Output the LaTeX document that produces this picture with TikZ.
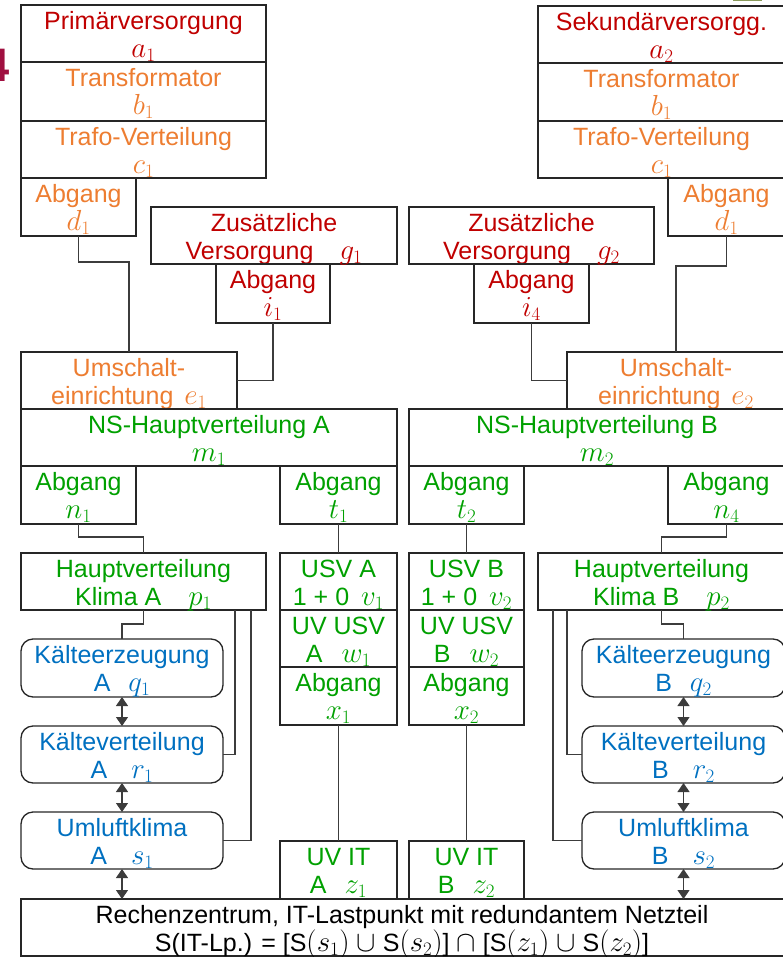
\RequirePackage{fix-cm}
\documentclass[tikz,border=0pt]{standalone}
\usepackage[no-math]{fontspec}
\setmainfont{Liberation Sans}
\DeclareMathSizes{25}{29}{19}{14}
\usetikzlibrary{fit,arrows.meta}
\definecolor{cred}{HTML}{C00000}
\definecolor{corange}{HTML}{ED7D31}
\definecolor{cgreen}{HTML}{00A000}
\definecolor{cblue}{HTML}{0070C0}
\definecolor{cline}{HTML}{262626}
\definecolor{cfour}{HTML}{A01040}
\definecolor{colive}{HTML}{8A9A5B}
\tikzset{
  sq/.style={draw=cline, line width=1.3pt, inner sep=0pt, outer sep=0pt},
  rd/.style={sq, rounded corners=12pt},
  txt/.style={anchor=north, inner sep=0pt, align=center, font=\fontsize{25}{28}\selectfont},
  conn/.style={draw=cline!90, line width=1.2pt},
  dbl/.style={conn, {Triangle[width=12pt,length=9pt]}-{Triangle[width=12pt,length=9pt]}}
}
\newcommand\mkbox[8]{%
  \node[#1, fit={(#3,#4) (#5,#6)}] (#2) {};
  \node[txt, text=#7] (#2t) at (#2.north) {\rule{0pt}{24pt}#8};
}
\begin{document}
\begin{tikzpicture}[x=1pt,y=-1pt]
\useasboundingbox (0,0) rectangle (782,957);
% stray marks at the edges
\node[anchor=base west, inner sep=0pt, text=cfour, font=\fontsize{47}{47}\selectfont\bfseries] (four) at (-17,82) {4};
\fill[colive] (733,-2) rectangle (762,1.5);
% top stacks
\mkbox{sq}{a1}{21}{5}{266}{62}{cred}{Primärversorgung\\$a_1$}
\mkbox{sq}{b1}{21}{62}{266}{121}{corange}{Transformator\\$b_1$}
\mkbox{sq}{c1}{21}{121}{266}{178}{corange}{Trafo-Verteilung\\$c_1$}
\mkbox{sq}{d1}{21}{178}{136}{236}{corange}{Abgang\\$d_1$}
\mkbox{sq}{a2}{538}{6}{785}{63}{cred}{Sekundärversorgg.\\$a_2$}
\mkbox{sq}{b2}{538}{63}{785}{121}{corange}{Transformator\\$b_1$}
\mkbox{sq}{c2}{538}{121}{785}{178}{corange}{Trafo-Verteilung\\$c_1$}
\mkbox{sq}{d2}{668}{178}{785}{236}{corange}{Abgang\\$d_1$}
% additional supply
\mkbox{sq}{g1}{151}{207}{397}{264}{cred}{Zusätzliche\\Versorgung\hspace{26pt}$g_1$}
\mkbox{sq}{i1}{216}{264}{330}{323}{cred}{Abgang\\$i_1$}
\mkbox{sq}{g2}{409}{207}{654}{264}{cred}{Zusätzliche\\Versorgung\hspace{26pt}$g_2$}
\mkbox{sq}{i4}{474}{264}{589}{323}{cred}{Abgang\\$i_4$}
% switching
\mkbox{sq}{e1}{21}{352}{237}{409}{corange}{Umschalt-\\einrichtung\hspace{11pt}$e_1$}
\mkbox{sq}{e2}{567}{352}{785}{409}{corange}{Umschalt-\\einrichtung\hspace{11pt}$e_2$}
% LV main distribution
\mkbox{sq}{m1}{21}{409}{397}{466}{cgreen}{NS-Hauptverteilung A\\$m_1$}
\mkbox{sq}{m2}{409}{409}{785}{466}{cgreen}{NS-Hauptverteilung B\\$m_2$}
\mkbox{sq}{n1}{21}{466}{136}{524}{cgreen}{Abgang\\$n_1$}
\mkbox{sq}{t1}{280}{466}{397}{524}{cgreen}{Abgang\\$t_1$}
\mkbox{sq}{t2}{409}{466}{524}{524}{cgreen}{Abgang\\$t_2$}
\mkbox{sq}{n4}{668}{466}{785}{524}{cgreen}{Abgang\\$n_4$}
% second level
\mkbox{sq}{p1}{21}{553}{266}{610}{cgreen}{Hauptverteilung\\Klima A\hspace{27pt}$p_1$}
\mkbox{sq}{v1}{280}{553}{397}{610}{cgreen}{USV A\\1 + 0\hspace{12pt}$v_1$}
\mkbox{sq}{v2}{409}{553}{524}{610}{cgreen}{USV B\\1 + 0\hspace{12pt}$v_2$}
\mkbox{sq}{p2}{538}{553}{785}{610}{cgreen}{Hauptverteilung\\Klima B\hspace{27pt}$p_2$}
\mkbox{sq}{w1}{280}{610}{397}{667}{cgreen}{UV USV\\A\hspace{19pt}$w_1$}
\mkbox{sq}{x1}{280}{667}{397}{725}{cgreen}{Abgang\\$x_1$}
\mkbox{sq}{w2}{409}{610}{524}{667}{cgreen}{UV USV\\B\hspace{19pt}$w_2$}
\mkbox{sq}{x2}{409}{667}{524}{725}{cgreen}{Abgang\\$x_2$}
\mkbox{sq}{z1}{280}{841}{397}{899}{cgreen}{UV IT\\A\hspace{18pt}$z_1$}
\mkbox{sq}{z2}{409}{841}{524}{899}{cgreen}{UV IT\\B\hspace{18pt}$z_2$}
% cooling
\mkbox{rd}{q1}{21}{639}{223}{697}{cblue}{Kälteerzeugung\\A\hspace{18pt}$q_1$}
\mkbox{rd}{r1}{21}{726}{223}{783}{cblue}{Kälteverteilung\\A\hspace{24pt}$r_1$}
\mkbox{rd}{s1}{21}{812}{223}{869}{cblue}{Umluftklima\\A\hspace{24pt}$s_1$}
\mkbox{rd}{q2}{582}{639}{785}{697}{cblue}{Kälteerzeugung\\B\hspace{18pt}$q_2$}
\mkbox{rd}{r2}{582}{726}{785}{783}{cblue}{Kälteverteilung\\B\hspace{24pt}$r_2$}
\mkbox{rd}{s2}{582}{812}{785}{869}{cblue}{Umluftklima\\B\hspace{24pt}$s_2$}
% load point
\node[sq, fit={(21,899) (785,956)}] (rz) {};
\node[txt, text=black] (rzt) at ([xshift=-1pt]rz.north) {\rule{0pt}{24pt}Rechenzentrum, IT-Lastpunkt mit redundantem Netzteil\\S(IT-Lp.) = [S$(s_1)$ $\cup$ S$(s_2)$] $\cap$ [S$(z_1)$ $\cup$ S$(z_2)$]};
% connectors
\draw[conn] (d1.south) -- ++(0,26) -| (e1.north);
\draw[conn] (d2.south) -- ++(0,30) -| (e2.north);
\draw[conn] (i1.south) |- (e1.east);
\draw[conn] (i4.south) |- (e2.west);
\draw[conn] (n1.south) -- ++(0,13) -| (p1.north);
\draw[conn] (t1.south) -- (v1.north);
\draw[conn] (t2.south) -- (v2.north);
\draw[conn] (n4.south) -- ++(0,13) -| (p2.north);
\draw[conn] (x1.south) -- (z1.north);
\draw[conn] (x2.south) -- (z2.north);
\draw[conn] (p1.south) -- ++(0,14) -| (q1.north);
\draw[conn] ([xshift=-31pt]p1.south east) |- (r1.east);
\draw[conn] ([xshift=-15pt]p1.south east) |- (s1.east);
\draw[conn] (p2.south) -- ++(0,14) -| (q2.north);
\draw[conn] ([xshift=29pt]p2.south west) |- (r2.west);
\draw[conn] ([xshift=15pt]p2.south west) |- (s2.west);
% cooling arrows
\draw[dbl] (q1.south) -- (r1.north);
\draw[dbl] (r1.south) -- (s1.north);
\draw[dbl] (s1.south) -- (s1.south |- rz.north);
\draw[dbl] (q2.south) -- (r2.north);
\draw[dbl] (r2.south) -- (s2.north);
\draw[dbl] (s2.south) -- (s2.south |- rz.north);
\end{tikzpicture}
\end{document}
